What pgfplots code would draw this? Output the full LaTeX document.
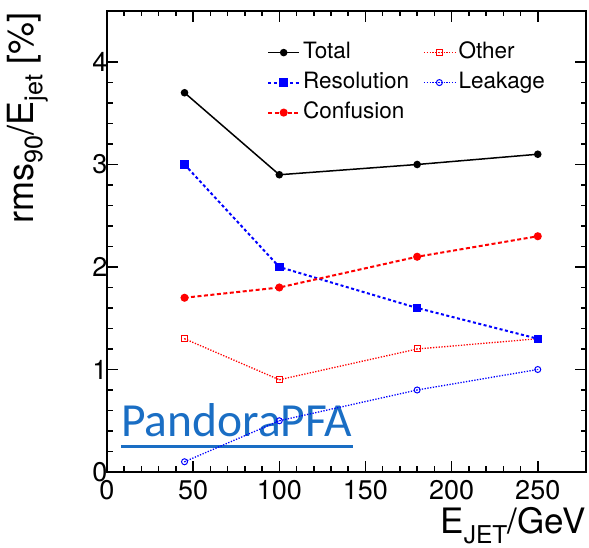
\documentclass[border=0pt]{standalone}
\usepackage{pgfplots}
\pgfplotsset{compat=1.18}
\usepackage{fontspec}
\setmainfont{TeX Gyre Heros}
\newfontfamily\carlito{Carlito}
\definecolor{pandora}{RGB}{26,110,196}
\pgfdeclareplotmark{odot}{\pgfpathcircle{\pgfpointorigin}{\pgfplotmarksize}\pgfusepathqstroke\pgfpathcircle{\pgfpointorigin}{0.6pt}\pgfusepathqfill}
\pgfdeclareplotmark{sqdot}{\pgfpathrectangle{\pgfpoint{-\pgfplotmarksize}{-\pgfplotmarksize}}{\pgfpoint{2\pgfplotmarksize}{2\pgfplotmarksize}}\pgfusepathqstroke\pgfpathcircle{\pgfpointorigin}{0.6pt}\pgfusepathqfill}
\begin{document}
\begin{tikzpicture}
\useasboundingbox (-107pt,-76pt) rectangle (482pt,472pt);
\node[anchor=base west, inner sep=0, text=pandora, font=\carlito\fontsize{47.5}{47.5}\selectfont] at (14pt,35pt) {PandoraPFA};
\draw[pandora, line width=3pt] (14pt,25pt) -- (246pt,25pt);
\begin{axis}[
  at={(0pt,0pt)}, anchor=south west, scale only axis,
  width=479pt, height=461.25pt,
  xmin=0, xmax=278, ymin=0, ymax=4.5,
  xtick={0,50,...,250}, ytick={0,1,2,3,4},
  minor x tick num=4, minor y tick num=4,
  tick align=inside, major tick length=11pt, minor tick length=5.5pt,
  every tick/.style={black, line width=1.5pt},
  axis line style={line width=2pt},
  ticklabel style={font=\fontsize{27}{27}\selectfont},
  xticklabel style={yshift=-5pt},
  yticklabel style={xshift=4pt},
  /pgf/number format/assume math mode=true,
  legend columns=2,
  legend cell align=left,
  legend style={draw=none, fill=none, at={(rel axis cs:0.334,0.939)}, anchor=north west,
    inner sep=0pt, font=\fontsize{22.5}{22.5}\selectfont,
    nodes={text height=16pt, text depth=5pt, inner sep=3pt},
    row sep=3pt,
    /tikz/every even column/.append style={column sep=11pt}},
  legend image code/.code={\draw[mark repeat=2,mark phase=2,#1] plot coordinates {(0pt,0pt) (15.5pt,0pt) (31pt,0pt)};},
]
\addplot[black, line width=1.5pt, mark=*, mark size=3pt, mark options={solid}]
  coordinates {(45,3.7) (100,2.9) (180,3.0) (250,3.1)};
\addlegendentry{Total}
\addplot[red, line width=1.3pt, dash pattern=on 1.3pt off 1.5pt, mark=sqdot, mark size=3pt, mark options={solid, line width=1pt}]
  coordinates {(45,1.3) (100,0.9) (180,1.2) (250,1.3)};
\addlegendentry{Other}
\addplot[blue, line width=2pt, dash pattern=on 3pt off 2.5pt, mark=square*, mark size=3.2pt, mark options={solid}]
  coordinates {(45,3.0) (100,2.0) (180,1.6) (250,1.3)};
\addlegendentry{Resolution}
\addplot[blue, line width=1.3pt, dash pattern=on 1.3pt off 1.5pt, mark=odot, mark size=3pt, mark options={solid, line width=1pt}]
  coordinates {(45,0.1) (100,0.5) (180,0.8) (250,1.0)};
\addlegendentry{Leakage}
\addplot[red, line width=2pt, dash pattern=on 4pt off 2.5pt, mark=*, mark size=3pt, mark options={solid}]
  coordinates {(45,1.7) (100,1.8) (180,2.1) (250,2.3)};
\addlegendentry{Confusion}
\end{axis}
\node[rotate=90, anchor=south east, inner sep=0, font=\fontsize{36}{36}\selectfont] at (-59pt,460pt) {rms\textsubscript{90}/E\textsubscript{jet} [\%]};
\node[anchor=base east, inner sep=0, font=\fontsize{35}{35}\selectfont] at (479pt,-62pt) {E\textsubscript{JET}/GeV};
\end{tikzpicture}
\end{document}
